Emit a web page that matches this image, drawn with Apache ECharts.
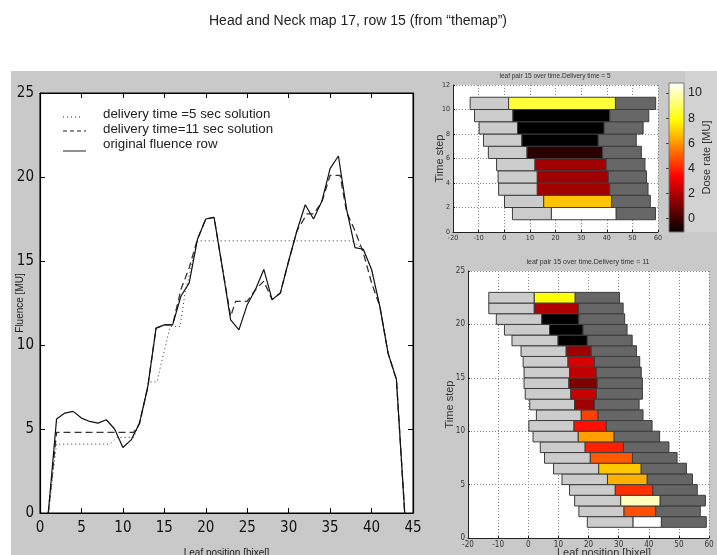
<!DOCTYPE html>
<html><head><meta charset="utf-8">
<script src="https://cdn.jsdelivr.net/npm/echarts@6/dist/echarts.min.js"></script>
<style>html,body{margin:0;padding:0;background:#fff}#c{width:717px;height:555px}</style>
</head><body><div id="c"></div>
<script>
// ---------- texts ----------
const mainTitle = 'Head and Neck map 17, row 15 (from “themap”)';
const title5 = 'leaf pair 15 over time.Delivery time = 5';
const title11 = 'leaf pair 15 over time.Delivery time = 11';
const legendNames = ['delivery time =5 sec solution', 'delivery time=11 sec solution', 'original fluence row'];

// ---------- main plot data ----------
const fluencePos = [1,2,3,4,5,6,7,8,9,10,11,12,13,14,15,16,17,18,19,20,21,22,23,24,25,26,27,28,29,30,31,32,33,34,35,36,37,38,39,40,41,42,43,44];
const fluenceOriginal = [0,5.6,5.95,6.05,5.65,5.45,5.35,5.55,5.0,3.9,4.35,5.35,7.5,11.0,11.2,11.2,12.9,13.7,16.3,17.5,17.6,14.6,11.5,10.9,12.4,13.3,14.5,12.7,13.1,15.0,16.8,18.35,17.5,18.55,20.5,21.25,18.05,15.8,15.7,14.5,12.3,9.5,7.95,0];
const dashedPos = [1,2,11.3,12,13,14,15,16,17,18,19,20,21,22,23,23.6,25,26,27,28,29,30,31,32.2,33,34,35,36.2,37,38,39,40,41,42,43,44];
const dashedVal = [0,4.8,4.8,5.3,7.5,11.0,11.2,11.2,13.3,14.6,16.3,17.5,17.6,14.6,11.7,12.6,12.6,13.3,13.8,12.7,13.1,15.0,16.8,17.8,17.8,18.5,20.1,20.1,17.9,16.8,15.5,13.7,12.3,9.5,7.95,0];
const dottedPos = [1,2,8.4,9.3,11.3,12,13,13.2,14.1,15.7,16.9,17.5,19,37.6,39,40,41,42,43,44];
const dottedVal = [0,4.1,4.1,4.5,4.5,5.3,7.5,7.8,7.8,11.1,11.1,13.1,16.2,16.2,15.7,14.5,12.3,9.5,7.95,0];

// ---------- delivery time = 5 (leaf positions per time step) ----------
const step5 = [1,2,3,4,5,6,7,8,9,10];
const left5Start = [3.2,0.1,-2.2,-2.4,-3.0,-6.2,-8.1,-9.8,-11.6,-13.3];
const open5Start = [18.4,15.4,12.9,12.9,12.0,8.9,6.9,5.2,3.4,1.7];
const open5End = [43.7,41.9,41.2,40.6,39.8,38.4,36.7,39.0,41.2,43.4];
const right5End = [59.0,57.0,56.1,55.5,54.9,53.5,51.5,54.2,56.4,59.1];
const dose5 = [10.8,6.8,1.7,1.7,1.7,-0.36,-1.1,-1.1,-1.1,8.5];

// ---------- delivery time = 11 ----------
const step11 = [1,2,3,4,5,6,7,8,9,10,11,12,13,14,15,16,17,18,19,20,21,22];
const left11Start = [19.6,16.8,15.4,13.7,11.2,8.4,5.4,4.0,1.6,0.2,2.7,0.5,-1.0,-1.4,-1.4,-1.7,-2.4,-5.4,-7.9,-10.6,-13.1,-13.1];
const open11Start = [34.8,31.8,30.7,28.9,26.3,23.4,20.6,18.9,16.6,15.2,17.6,15.4,14.1,13.5,13.7,13.2,12.6,9.9,7.1,4.5,2.0,2.0];
const open11End = [44.2,42.3,43.8,41.4,39.5,37.5,34.6,31.6,28.5,25.9,23.2,22.0,22.6,22.9,22.6,22.0,20.9,19.6,18.2,16.8,16.7,15.6];
const right11End = [59.1,57.1,58.8,56.1,54.5,52.5,49.4,46.7,43.6,41.1,38.1,36.8,37.9,37.9,37.5,37.0,35.9,34.5,32.8,32.0,31.5,30.3];
const dose11 = [10.8,4.75,10.06,4.2,6.44,6.85,4.93,3.92,6.16,3.64,4.48,1.71,2.4,1.14,2.25,2.68,1.71,-1.1,-1.1,-1.1,1.98,7.85];

// ---------- colorbar ----------
const cbMin = -1.1, cbMax = 10.8;
const cbTicks = [0,2,4,6,8,10];

function hot(v){
  let t = (v - cbMin) / (cbMax - cbMin);
  t = Math.max(0, Math.min(1, t));
  const r = Math.min(1, t/0.375);
  const g = Math.max(0, Math.min(1, (t-0.375)/0.375));
  const b = Math.max(0, Math.min(1, (t-0.75)/0.25));
  return 'rgb(' + Math.round(r*255) + ',' + Math.round(g*255) + ',' + Math.round(b*255) + ')';
}

function pairs(xs, ys){ return xs.map((x,i)=>[x, ys[i]]); }
function rows(k, a, b, c, d, e){ return k.map((s,i)=>[s, a[i], b[i], c[i], d[i], e[i]]); }

function renderLeaves(params, api){
  const k = api.value(0);
  const pTop = api.coord([api.value(1), k+1]);
  const pA = api.coord([api.value(2), k]);
  const pB = api.coord([api.value(3), k]);
  const pC = api.coord([api.value(4), k]);
  const y0 = pTop[1], h = pA[1] - pTop[1];
  const st = {stroke:'#3c3c3c', lineWidth:1};
  return {type:'group', children:[
    {type:'rect', shape:{x:pTop[0], y:y0, width:pA[0]-pTop[0], height:h}, style:Object.assign({fill:'#cccccc'}, st)},
    {type:'rect', shape:{x:pA[0], y:y0, width:pB[0]-pA[0], height:h}, style:Object.assign({fill:hot(api.value(5))}, st)},
    {type:'rect', shape:{x:pB[0], y:y0, width:pC[0]-pB[0], height:h}, style:Object.assign({fill:'#666666'}, st)}
  ]};
}

function renderColorbar(params, api){
  const p0 = api.coord([0, api.value(1)]);
  const p1 = api.coord([1, api.value(0)]);
  return {type:'rect', shape:{x:p0[0], y:p0[1], width:p1[0]-p0[0], height:p1[1]-p0[1]},
    style:{fill:{type:'linear', x:0, y:0, x2:0, y2:1, colorStops:[
      {offset:0, color:'#ffffff'}, {offset:0.25, color:'#ffff00'}, {offset:0.625, color:'#ff0000'}, {offset:1, color:'#000000'}]},
      stroke:'#777', lineWidth:1}};
}

const narrow = "'Liberation Sans Narrow', 'DejaVu Sans Condensed', sans-serif";
const sans = "'Liberation Sans', Arial, sans-serif";

const chart = echarts.init(document.getElementById('c'), null, {renderer:'canvas'});

function smallX(grid, fs){
  return {gridIndex:grid, type:'value', min:-20, max:60, interval:10,
    axisLine:{onZero:false, lineStyle:{color:'#222', width:1}}, axisTick:{inside:true, length:2, lineStyle:{color:'#222'}},
    axisLabel:{fontSize:fs, color:'#333', margin:3, fontFamily:narrow},
    splitLine:{show:true, lineStyle:{color:'#888', type:[1,2], width:1}}};
}
function smallY(grid, max, interval, fs, nameGap){
  return {gridIndex:grid, type:'value', min:0, max:max, interval:interval,
    axisLine:{onZero:false, lineStyle:{color:'#222', width:1}}, axisTick:{inside:true, length:2, lineStyle:{color:'#222'}},
    axisLabel:{fontSize:fs, color:'#333', margin:3, fontFamily:narrow},
    splitLine:{show:true, lineStyle:{color:'#888', type:[1,2], width:1}},
    name:'Time step', nameLocation:'middle', nameGap:nameGap, nameRotate:90, nameMoveOverlap:false,
    nameTextStyle:{fontSize:11, color:'#333', fontFamily:sans}};
}

const option = {
  animation:false,
  backgroundColor:'#ffffff',
  grid:[
    {left:40, top:93, width:373, height:420, show:true, backgroundColor:'#fff', borderColor:'#000', borderWidth:1, outerBoundsMode:'none', containLabel:false},
    {left:453, top:85, width:205, height:147, show:true, backgroundColor:'#fff', borderWidth:0, outerBoundsMode:'none', containLabel:false},
    {left:468, top:271, width:241, height:267, show:true, backgroundColor:'#fff', borderWidth:0, outerBoundsMode:'none', containLabel:false},
    {left:669, top:83, width:15, height:149, show:false, outerBoundsMode:'none', containLabel:false}
  ],
  xAxis:[
    {gridIndex:0, type:'value', min:0, max:45, interval:5, position:'bottom',
      axisLine:{onZero:false, lineStyle:{color:'#000', width:1.2}}, axisTick:{show:true, inside:true, length:5, lineStyle:{color:'#000'}},
      axisLabel:{fontSize:15, color:'#111', margin:8, fontFamily:narrow},
      splitLine:{show:false},
      name:'Leaf position [bixel]', nameLocation:'middle', nameGap:35, nameMoveOverlap:false,
      nameTextStyle:{fontSize:10, color:'#222', fontFamily:sans}},
    {gridIndex:0, type:'value', min:0, max:45, interval:5, position:'top',
      axisLine:{onZero:false, lineStyle:{color:'#000', width:1.2}}, axisTick:{show:true, inside:true, length:5, lineStyle:{color:'#000'}},
      axisLabel:{show:false}, splitLine:{show:false}},
    smallX(1, 7),
    smallX(2, 8),
    {gridIndex:3, type:'value', min:0, max:1, show:false}
  ],
  yAxis:[
    {gridIndex:0, type:'value', min:0, max:25, interval:5, position:'left',
      axisLine:{onZero:false, lineStyle:{color:'#000', width:1.2}}, axisTick:{show:true, inside:true, length:5, lineStyle:{color:'#000'}},
      axisLabel:{fontSize:15, color:'#111', margin:6, fontFamily:narrow},
      splitLine:{show:false},
      name:'Fluence [MU]', nameLocation:'middle', nameGap:15, nameRotate:90, nameMoveOverlap:false,
      nameTextStyle:{fontSize:10, color:'#222', fontFamily:sans}},
    {gridIndex:0, type:'value', min:0, max:25, interval:5, position:'right',
      axisLine:{onZero:false, lineStyle:{color:'#000', width:1.2}}, axisTick:{show:true, inside:true, length:5, lineStyle:{color:'#000'}},
      axisLabel:{show:false}, splitLine:{show:false}},
    smallY(1, 12, 2, 7, 8),
    smallY(2, 25, 5, 8, 13),
    {gridIndex:3, type:'value', min:cbMin, max:cbMax, position:'right',
      axisLine:{show:false},
      axisTick:{show:true, inside:true, length:3, customValues:cbTicks, lineStyle:{color:'#444'}},
      axisLabel:{show:true, customValues:cbTicks, fontSize:12.5, color:'#222', margin:4, fontFamily:sans},
      splitLine:{show:false},
      name:'Dose rate [MU]', nameLocation:'middle', nameGap:17, nameRotate:90, nameMoveOverlap:false,
      nameTextStyle:{fontSize:11, color:'#333', fontFamily:sans}}
  ],
  series:[
    {type:'line', xAxisIndex:0, yAxisIndex:0, data:pairs(dottedPos, dottedVal), symbol:'none', z:3,
      lineStyle:{color:'#333', width:1, type:[1,3]}},
    {type:'line', xAxisIndex:0, yAxisIndex:0, data:pairs(dashedPos, dashedVal), symbol:'none', z:4,
      lineStyle:{color:'#333', width:1.3, type:[7,4]}},
    {type:'line', xAxisIndex:0, yAxisIndex:0, data:pairs(fluencePos, fluenceOriginal), symbol:'none', z:5,
      lineStyle:{color:'#111', width:1.2}},
    {type:'custom', xAxisIndex:2, yAxisIndex:2, renderItem:renderLeaves,
      data:rows(step5, left5Start, open5Start, open5End, right5End, dose5), encode:{x:[1,2,3,4], y:0}, z:3},
    {type:'custom', xAxisIndex:3, yAxisIndex:3, renderItem:renderLeaves,
      data:rows(step11, left11Start, open11Start, open11End, right11End, dose11), encode:{x:[1,2,3,4], y:0}, z:3},
    {type:'custom', xAxisIndex:4, yAxisIndex:4, renderItem:renderColorbar,
      data:[[cbMin, cbMax]], encode:{y:[0,1]}, z:3}
  ],
  graphic:[
    {type:'rect', z:-10, silent:true, shape:{x:11, y:71, width:706, height:484}, style:{fill:'#c9c9c9'}},
    {type:'rect', z:-9, silent:true, shape:{x:685, y:71, width:32, height:161}, style:{fill:'#d2d2d2'}},
    {type:'text', x:358, y:21, style:{text:mainTitle, fontSize:14, fontFamily:sans, fill:'#222', textAlign:'center', textVerticalAlign:'middle'}},
    {type:'text', x:555, y:76, style:{text:title5, fontSize:6.5, fontFamily:sans, fill:'#333', textAlign:'center', textVerticalAlign:'middle'}},
    {type:'text', x:588, y:262, style:{text:title11, fontSize:7, fontFamily:sans, fill:'#333', textAlign:'center', textVerticalAlign:'middle'}},
    {type:'text', x:604, y:547, style:{text:'Leaf position [bixel]', fontSize:11, fontFamily:sans, fill:'#333', textAlign:'center', textVerticalAlign:'top'}},
    {type:'line', z:10, shape:{x1:63, y1:117, x2:80, y2:117}, style:{stroke:'#222', lineWidth:1, lineDash:[1,3]}},
    {type:'line', z:10, shape:{x1:63, y1:131, x2:86, y2:131}, style:{stroke:'#222', lineWidth:1, lineDash:[4,3]}},
    {type:'line', z:10, shape:{x1:63, y1:151, x2:86, y2:151}, style:{stroke:'#222', lineWidth:1}},
    {type:'text', z:10, x:103, y:114, style:{text:legendNames[0], fontSize:13.3, fontFamily:sans, fill:'#222', textVerticalAlign:'middle'}},
    {type:'text', z:10, x:103, y:129, style:{text:legendNames[1], fontSize:13.3, fontFamily:sans, fill:'#222', textVerticalAlign:'middle'}},
    {type:'text', z:10, x:103, y:144, style:{text:legendNames[2], fontSize:13.3, fontFamily:sans, fill:'#222', textVerticalAlign:'middle'}}
  ]
};
chart.setOption(option);
</script>
</body></html>
